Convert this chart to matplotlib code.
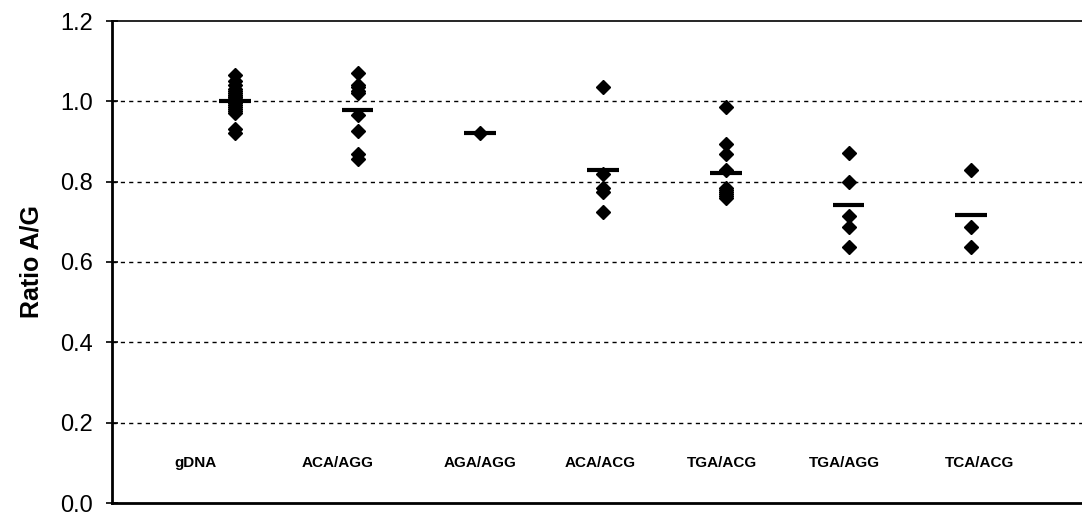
import matplotlib
matplotlib.use("Agg")
import matplotlib.pyplot as plt
import numpy as np

# Categories (motif contexts) and the individual A/G ratios measured for each
categories = ["gDNA", "ACA/AGG", "AGA/AGG", "ACA/ACG", "TGA/ACG", "TGA/AGG", "TCA/ACG"]

ratio_gdna = [1.065, 1.05, 1.04, 1.03, 1.025, 1.02, 1.015, 1.01, 1.01, 1.005,
              1.0, 1.0, 0.995, 0.99, 0.985, 0.98, 0.975, 0.97, 0.93, 0.92]
ratio_aca_agg = [1.07, 1.04, 1.035, 1.025, 1.02, 0.965, 0.925, 0.868, 0.856]
ratio_aga_agg = [0.922]
ratio_aca_acg = [1.035, 0.82, 0.785, 0.775, 0.725]
ratio_tga_acg = [0.985, 0.895, 0.87, 0.83, 0.785, 0.78, 0.775, 0.77, 0.765, 0.76]
ratio_tga_agg = [0.871, 0.798, 0.715, 0.686, 0.637]
ratio_tca_acg = [0.83, 0.686, 0.637]

groups = [ratio_gdna, ratio_aca_agg, ratio_aga_agg, ratio_aca_acg,
          ratio_tga_acg, ratio_tga_agg, ratio_tca_acg]

y_ticks = [0.0, 0.2, 0.4, 0.6, 0.8, 1.0, 1.2]

# Layout: horizontal nudges of the in-plot category labels (in category units)
label_nudge = [-0.32, -0.16, 0.0, -0.02, -0.03, -0.03, 0.07]
label_y = 0.10
bar_half = 0.13

fig = plt.figure(figsize=(10.82, 5.19), dpi=100)
W, H = 1082, 519
ax = fig.add_axes([112 / W, 16 / H, (1094 - 112) / W, (503 - 21) / H])

positions = np.arange(1, len(categories) + 1)

for x, vals in zip(positions, groups):
    ax.plot([x] * len(vals), vals, linestyle="none", marker="D",
            markersize=7.0, color="black", zorder=3)
    m = float(np.mean(vals))
    ax.hlines(m, x - bar_half, x + bar_half, colors="black", linewidth=3.0,
              zorder=4)

for x, name, dx in zip(positions, categories, label_nudge):
    ax.text(x + dx, label_y, name, ha="center", va="center", fontsize=11,
            fontweight="bold", family="Liberation Sans", color="black")

ax.set_xlim(0, len(categories) + 1)
ax.set_ylim(0, 1.2)
ax.set_yticks(y_ticks)
ax.set_yticklabels([f"{t:.1f}" for t in y_ticks], fontsize=17,
                   family="Liberation Sans")
ax.set_xticks([])

# dotted horizontal gridlines
for t in y_ticks[1:-1]:
    ax.axhline(t, color="black", linewidth=1.0, linestyle=(0, (3, 3)), zorder=1)

ax.tick_params(axis="y", direction="inout", length=9, width=1.2, pad=9)
for side in ["left", "bottom"]:
    ax.spines[side].set_linewidth(2.0)
ax.spines["top"].set_linewidth(1.2)
ax.spines["right"].set_visible(False)

ax.set_ylabel("Ratio A/G", fontsize=18, fontweight="bold",
              family="Liberation Sans", labelpad=12)

fig.savefig("out.png", dpi=100)
